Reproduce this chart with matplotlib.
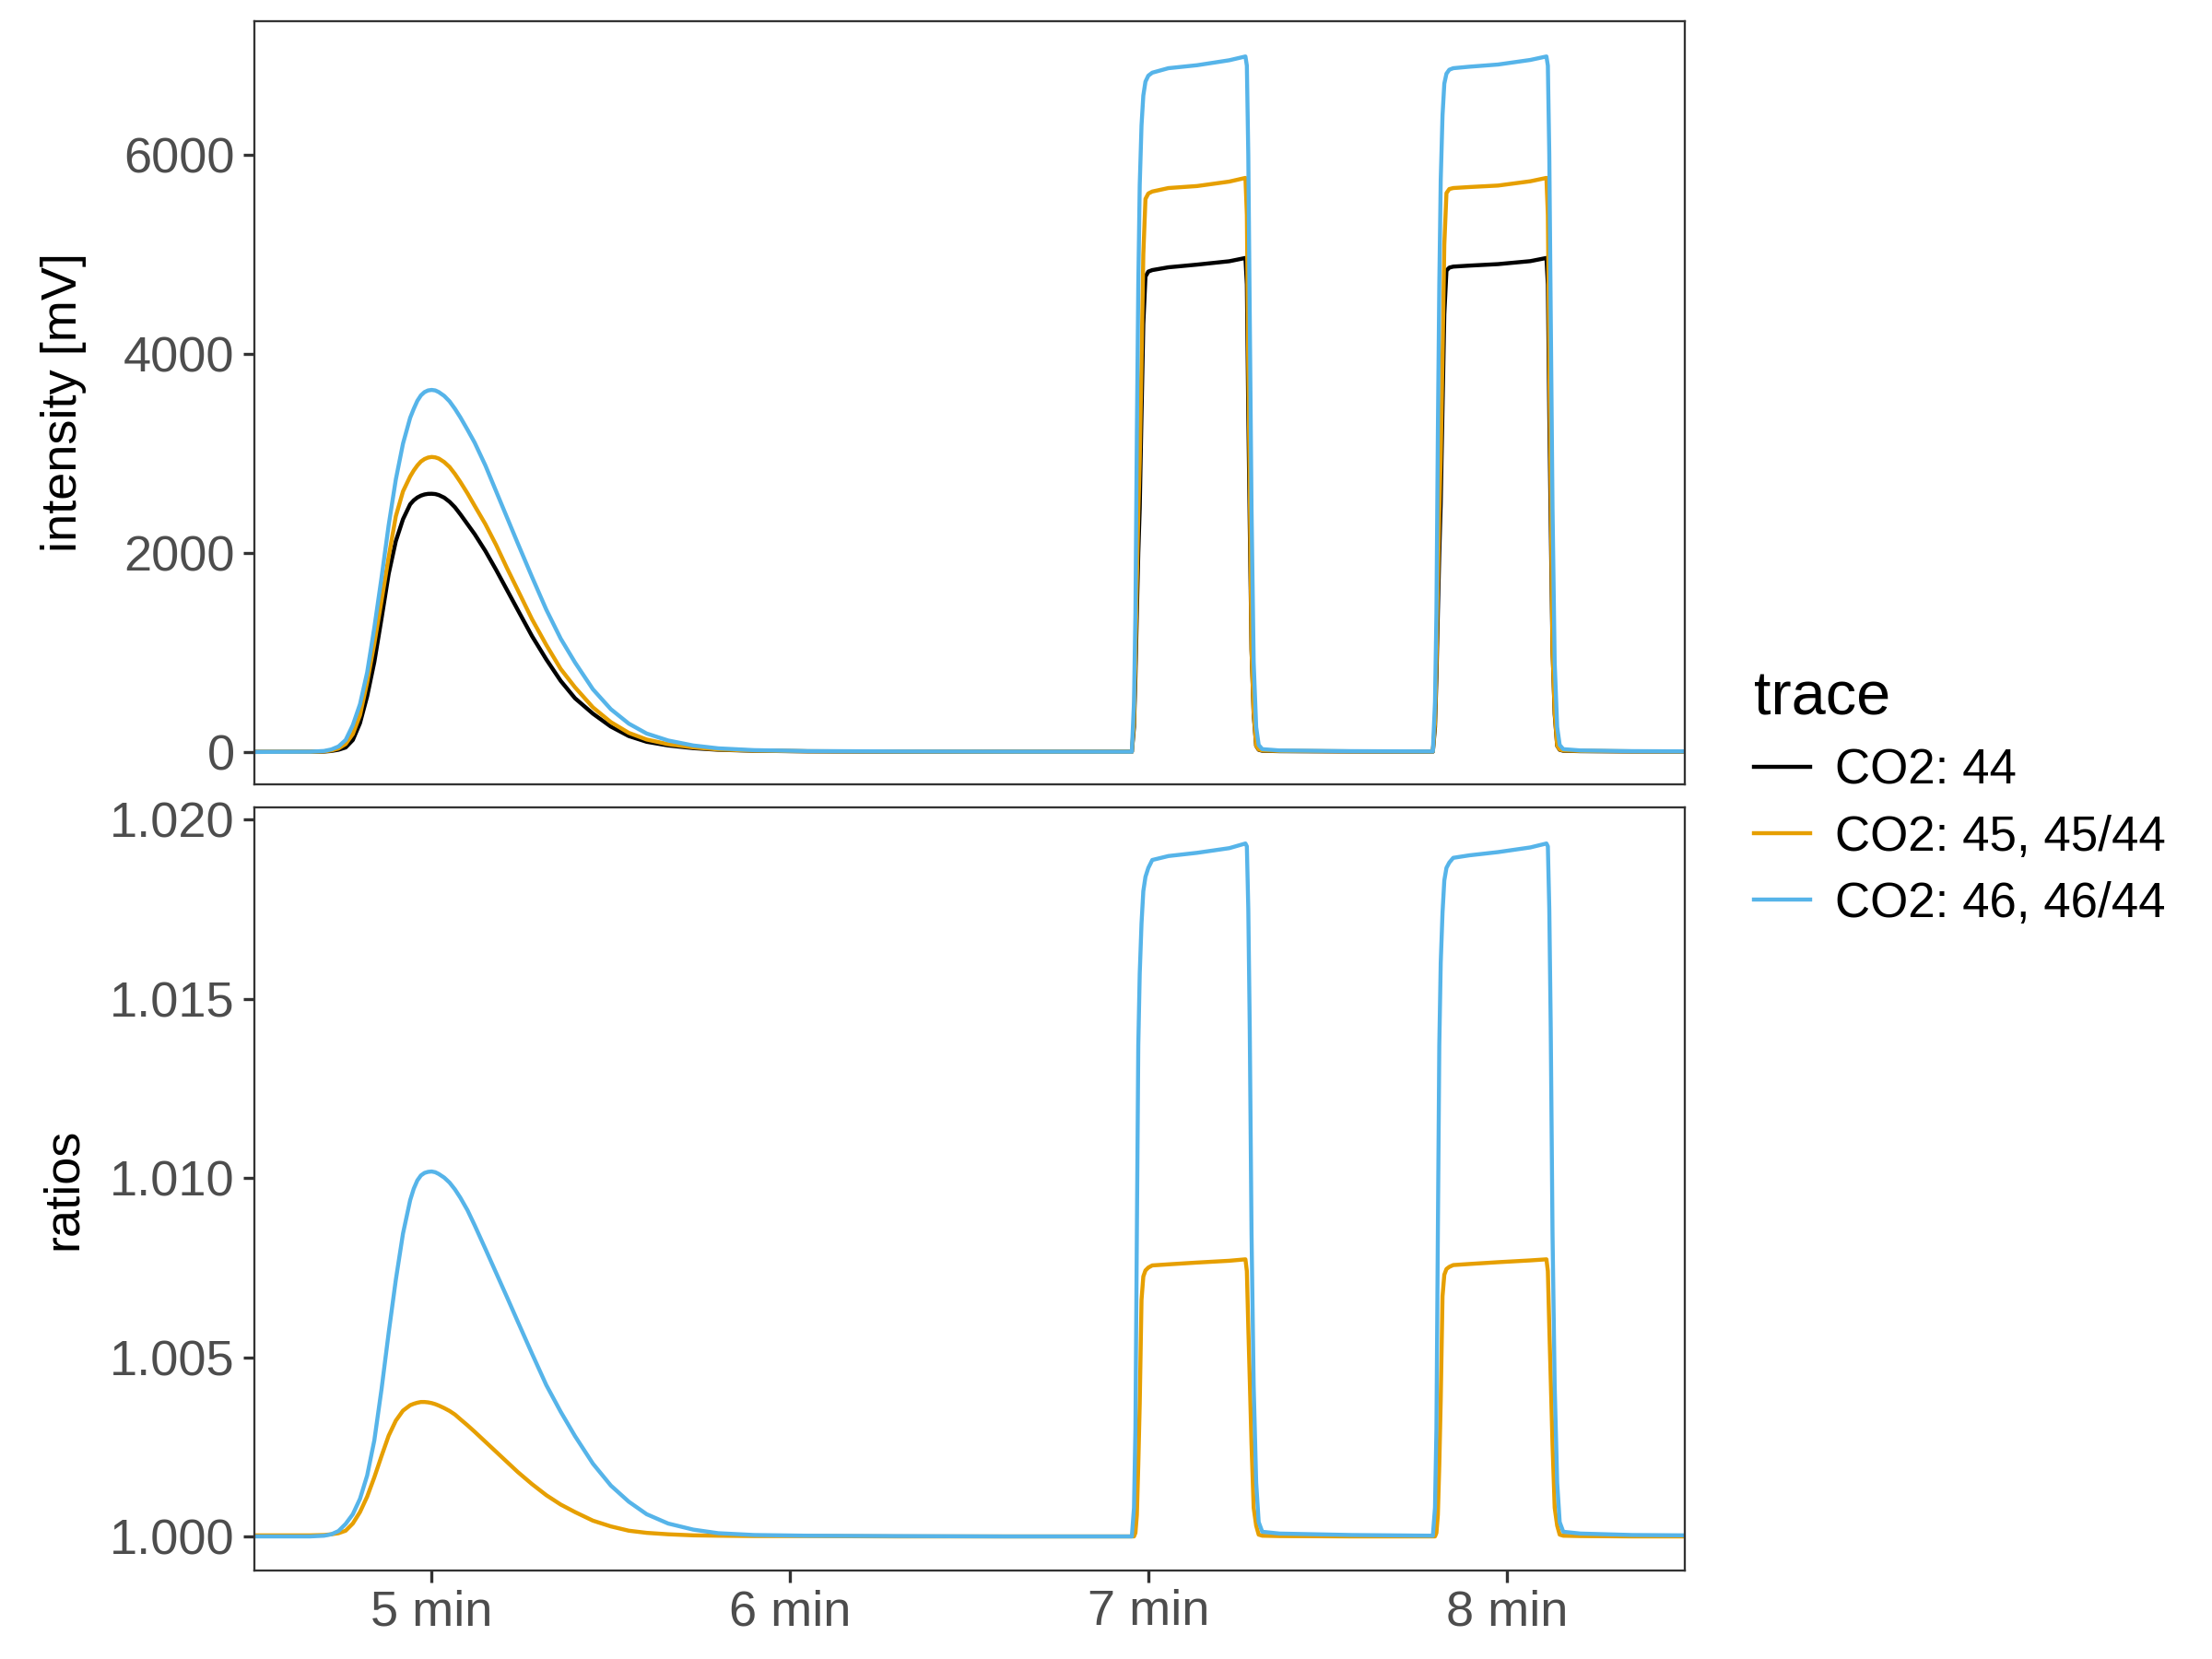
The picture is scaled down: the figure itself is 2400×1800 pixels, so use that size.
import matplotlib
matplotlib.use("Agg")
import matplotlib.pyplot as plt
from matplotlib.lines import Line2D

plt.rcParams['font.family'] = ['Liberation Sans', 'DejaVu Sans']

# zaman ekseni (dakika)
time_min = [
    # tepe
    4.50, 4.66, 4.70, 4.72, 4.74, 4.76, 4.78, 4.80, 4.82, 4.84, 4.86, 4.88,
    4.90, 4.92, 4.94, 4.95, 4.96, 4.97, 4.98, 4.99, 5.00, 5.01, 5.02, 5.035,
    5.05, 5.065, 5.08, 5.10, 5.12, 5.15, 5.18, 5.21, 5.24, 5.28, 5.32, 5.36,
    5.40, 5.45, 5.50, 5.55, 5.60, 5.66, 5.73, 5.80, 5.90, 6.05, 6.30, 6.60,
    # puls 1
    6.954, 6.960, 6.964, 6.968, 6.972, 6.976, 6.981, 6.986, 6.992, 7.000,
    7.011, 7.056, 7.136, 7.226, 7.271, 7.275, 7.279, 7.283, 7.288, 7.294,
    7.301, 7.308, 7.318, 7.366, 7.566,
    # puls 2
    7.794, 7.800, 7.804, 7.808, 7.812, 7.816, 7.821, 7.826, 7.832, 7.840,
    7.851, 7.896, 7.976, 8.066, 8.111, 8.115, 8.119, 8.123, 8.128, 8.134,
    8.141, 8.148, 8.158, 8.206, 8.350, 8.500,
]

# yogunluk [mV]
int_44 = [
    0, 1, 4, 10, 22, 45, 120, 290, 560, 905, 1340, 1790,
    2120, 2340, 2490, 2530, 2558, 2577, 2589, 2595, 2596, 2593, 2583, 2557,
    2515, 2460, 2390, 2290, 2190, 2020, 1830, 1630, 1430, 1165, 930, 715,
    540, 385, 255, 160, 102, 65, 38, 22, 12, 6, 3, 2,
    2, 250, 750, 1400, 2000, 2451, 3400, 4300, 4780, 4830,
    4845, 4873, 4900, 4934, 4967, 4700, 3397, 2300, 1031, 380,
    61, 22, 12, 8, 5,
    3, 250, 750, 1400, 2000, 2500, 3450, 4400, 4840, 4870,
    4880, 4890, 4905, 4935, 4967, 4700, 3397, 2300, 1031, 380,
    61, 22, 12, 8, 5, 4,
]
int_45 = [
    0, 1, 6, 15, 35, 80, 180, 370, 700, 1090, 1520, 1960,
    2370, 2620, 2770, 2830, 2880, 2920, 2945, 2960, 2966, 2962, 2950, 2915,
    2865, 2795, 2715, 2600, 2475, 2290, 2080, 1850, 1630, 1335, 1075, 835,
    650, 448, 300, 192, 125, 78, 46, 25, 13, 7, 4, 2,
    2, 300, 900, 1700, 2400, 2924, 3900, 5000, 5560, 5615,
    5635, 5670, 5690, 5735, 5772, 5400, 3870, 2700, 1031, 400,
    61, 25, 15, 10, 6,
    4, 300, 900, 1700, 2400, 2950, 3950, 5100, 5620, 5660,
    5670, 5680, 5695, 5738, 5772, 5400, 3870, 2700, 1031, 400,
    61, 25, 15, 10, 6, 5,
]
int_46 = [
    0, 2, 10, 25, 55, 120, 270, 480, 800, 1250, 1750, 2280,
    2740, 3100, 3360, 3450, 3530, 3585, 3618, 3635, 3640, 3635, 3618, 3580,
    3525, 3450, 3365, 3240, 3110, 2880, 2620, 2360, 2100, 1760, 1430, 1140,
    900, 630, 430, 285, 185, 115, 65, 36, 18, 9, 5, 3,
    2, 500, 1400, 3200, 4700, 5700, 6300, 6600, 6740, 6800,
    6830, 6875, 6905, 6955, 6993, 6900, 6000, 4400, 2450, 900,
    250, 70, 28, 15, 8,
    5, 500, 1400, 3200, 4700, 5750, 6400, 6720, 6820, 6860,
    6875, 6890, 6912, 6958, 6993, 6900, 6000, 4400, 2450, 900,
    250, 70, 28, 15, 8, 6,
]

# oranlar
ratio_45 = [
    1.00003, 1.00003, 1.00004, 1.00006, 1.00009, 1.00016, 1.00036, 1.00068,
    1.00111, 1.00165, 1.00224, 1.00281, 1.00323, 1.00351, 1.00366, 1.00370,
    1.00373, 1.00375, 1.00375, 1.00374, 1.00372, 1.00369, 1.00365, 1.00358,
    1.00350, 1.00340, 1.00327, 1.00310, 1.00292, 1.00264, 1.00236, 1.00208,
    1.00180, 1.00146, 1.00115, 1.00089, 1.00068, 1.00044, 1.00028, 1.00016,
    1.00010, 1.00006, 1.00003, 1.00002, 1.00001, 1.00001, 1.00000, 1.00000,
    1.00000, 1.00000, 1.00010, 1.00060, 1.00200, 1.00370, 1.00660, 1.00725,
    1.00742, 1.00750, 1.00756, 1.00759, 1.00764, 1.00769, 1.00773, 1.00740,
    1.00583, 1.00440, 1.00256, 1.00080, 1.00030, 1.00005, 1.00002, 1.00001,
    1.00000,
    1.00000, 1.00000, 1.00010, 1.00060, 1.00200, 1.00380, 1.00670, 1.00730,
    1.00746, 1.00752, 1.00757, 1.00760, 1.00765, 1.00770, 1.00773, 1.00740,
    1.00583, 1.00440, 1.00256, 1.00080, 1.00030, 1.00005, 1.00002, 1.00001,
    1.00000, 1.00000,
]
ratio_46 = [
    1.00000, 1.00000, 1.00002, 1.00006, 1.00015, 1.00035, 1.00062, 1.00105,
    1.00170, 1.00268, 1.00410, 1.00568, 1.00716, 1.00845, 1.00938, 1.00970,
    1.00993, 1.01007, 1.01014, 1.01017, 1.01018, 1.01016, 1.01011, 1.01001,
    1.00987, 1.00968, 1.00945, 1.00910, 1.00868, 1.00802, 1.00735, 1.00668,
    1.00600, 1.00510, 1.00422, 1.00348, 1.00280, 1.00203, 1.00142, 1.00097,
    1.00062, 1.00036, 1.00019, 1.00009, 1.00004, 1.00002, 1.00001, 1.00000,
    1.00000, 1.00080, 1.00300, 1.00845, 1.01370, 1.01570, 1.01710, 1.01800,
    1.01840, 1.01865, 1.01887, 1.01898, 1.01907, 1.01920, 1.01933, 1.01925,
    1.01750, 1.01420, 1.00845, 1.00420, 1.00150, 1.00040, 1.00013, 1.00008,
    1.00004,
    1.00002, 1.00080, 1.00300, 1.00845, 1.01370, 1.01600, 1.01740, 1.01830,
    1.01865, 1.01880, 1.01893, 1.01900, 1.01909, 1.01922, 1.01933, 1.01925,
    1.01750, 1.01420, 1.00845, 1.00420, 1.00150, 1.00040, 1.00013, 1.00008,
    1.00004, 1.00003,
]

trace_labels = ['CO2: 44', 'CO2: 45, 45/44', 'CO2: 46, 46/44']
trace_colors = ['#000000', '#E69F00', '#56B4E9']
x_ticks = [5, 6, 7, 8]
x_tick_labels = ['5 min', '6 min', '7 min', '8 min']

fig = plt.figure(figsize=(8, 6), dpi=300)
W, H = 1568.0, 1176.0
ax1 = fig.add_axes([180 / W, 1 - 556 / H, 1014 / W, 541 / H])
ax2 = fig.add_axes([180 / W, 1 - 1113 / H, 1014 / W, 541 / H])

lw = 1.05
ax1.plot(time_min, int_44, color=trace_colors[0], lw=lw)
ax1.plot(time_min, int_45, color=trace_colors[1], lw=lw)
ax1.plot(time_min, int_46, color=trace_colors[2], lw=lw)
ax2.plot(time_min, ratio_45, color=trace_colors[1], lw=lw)
ax2.plot(time_min, ratio_46, color=trace_colors[2], lw=lw)

ax1.set_xlim(4.504, 8.496)
ax2.set_xlim(4.504, 8.496)
ax1.set_ylim(-326, 7348)
ax2.set_ylim(0.99906, 1.02035)

ax1.set_yticks([0, 2000, 4000, 6000])
ax1.set_yticklabels(['0', '2000', '4000', '6000'])
ax1.set_xticks([])
ax2.set_yticks([1.000, 1.005, 1.010, 1.015, 1.020])
ax2.set_yticklabels(['1.000', '1.005', '1.010', '1.015', '1.020'])
ax2.set_xticks(x_ticks)
ax2.set_xticklabels(x_tick_labels)

for ax in (ax1, ax2):
    for sp in ax.spines.values():
        sp.set_color('#333333')
        sp.set_linewidth(0.55)
    ax.tick_params(direction='out', length=3, width=0.8, color='#333333',
                   labelsize=13, labelcolor='#4D4D4D', pad=2)

fig.text(45 / W, 1 - 285.5 / H, 'intensity [mV]', rotation=90,
         ha='center', va='center', fontsize=13)
fig.text(45 / W, 1 - 842.5 / H, 'ratios', rotation=90,
         ha='center', va='center', fontsize=13)

handles = [Line2D([], [], color=c, lw=lw) for c in trace_colors]
leg = fig.legend(handles, trace_labels, title='trace', loc='upper left',
                 bbox_to_anchor=(1212 / W, 1 - 444 / H), frameon=False,
                 fontsize=12.7, title_fontsize=16, handlelength=1.16,
                 handletextpad=0.5, labelspacing=0.42, alignment='left')

fig.savefig('out.png', dpi=300, facecolor='white')
